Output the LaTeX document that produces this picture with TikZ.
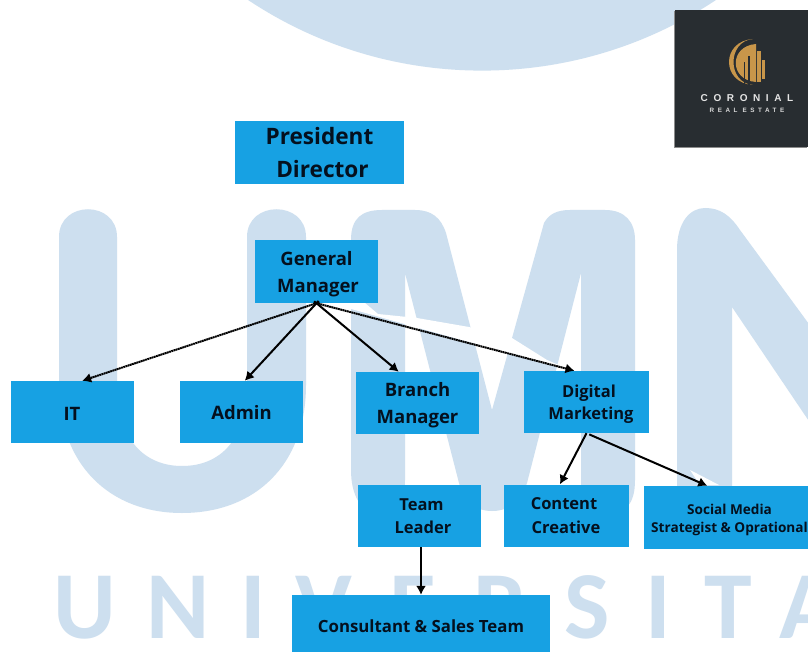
\documentclass[tikz,border=0pt]{standalone}
\usepackage{fontspec}
\usetikzlibrary{arrows.meta}
\setmainfont{Open Sans}
\newfontfamily\wmfont{Carlito}
\newfontfamily\logofont[LetterSpace=56]{Liberation Sans}

\definecolor{wmblue}{HTML}{CDDFEF}
\definecolor{boxblue}{HTML}{17A1E3}
\definecolor{boxtext}{HTML}{04101E}
\definecolor{logodark}{HTML}{282D31}
\definecolor{logogold}{HTML}{C8964A}

%% taller first line, pushes the text of a box down
\newcommand{\droptext}[1]{\rule{0pt}{#1}}

\tikzset{
	orgbox/.style={fill=boxblue, text=boxtext, inner sep=0pt, align=center,
		minimum width=123pt, minimum height=62pt,
		font=\fontsize{18.5}{27}\selectfont\bfseries},
	orgline/.style={-{Latex[length=9pt,width=10pt]}, line width=2pt, black},
	orgdots/.style={orgline, dash pattern=on 1.8pt off 0.5pt},
	wmletter/.style={text=wmblue, inner sep=0pt, anchor=base,
		font=\fontsize{96}{96}\selectfont\wmfont\bfseries},
}

\begin{document}
\begin{tikzpicture}[x=1pt, y=-1pt]
	\clip (0,0) rectangle (808,652);
	\fill [white] (0,0) rectangle (808,652);

	%% Watermark
	\fill [wmblue] (482,-352) circle [radius=422.6];
	\fill [wmblue] (59,237) .. controls (59,200) and (117,200) .. (117,237)
		-- (117,385) .. controls (117,440) and (145,466) .. (182,466)
		.. controls (220,466) and (247,440) .. (247,385)
		-- (247,237) .. controls (247,200) and (306,200) .. (306,237)
		-- (306,385) .. controls (306,465) and (255,513) .. (182,513)
		.. controls (110,513) and (59,465) .. (59,385) -- cycle
	;
	\fill [wmblue] (351,240) .. controls (351,218) and (362,210) .. (382,210)
		-- (415,210) .. controls (432,210) and (441,218) .. (446,233)
		-- (492,410) -- (544,223) .. controls (549,214) and (557,210) .. (570,210)
		-- (605,210) .. controls (625,210) and (635,222) .. (635,240)
		-- (635,480) .. controls (635,505) and (625,513) .. (608,513)
		.. controls (595,513) and (581,505) .. (581,480)
		-- (581,273) -- (527,483) .. controls (520,503) and (508,511) .. (492,511)
		.. controls (476,511) and (465,503) .. (459,483)
		-- (405,273) -- (405,480) .. controls (405,505) and (395,513) .. (378,513)
		.. controls (361,513) and (351,495) .. (351,470) -- cycle
	;
	\fill [wmblue] (677,250) .. controls (677,222) and (690,208) .. (705,208)
		.. controls (720,208) and (730,215) .. (740,230)
		-- (850,380) -- (850,482) -- (732,307) -- (732,490) -- (677,490) -- cycle
	;
	\foreach \letter/\xpos in {U/85, N/178, I/253, V/324, E/413, R/501, S/587, I/658, T/728, A/809}
		\node [wmletter] (wm\xpos) at (\xpos,638) {\letter};

	%% White strips along the arrows
	\fill [white] (365,303) -- (378,314) -- (417,318) -- (469,327) -- (512,338)
		-- (547,360) -- (575,372) -- (330,303) -- cycle;
	\fill [white] (690,470) -- (719,485) -- (700,485) -- cycle;

	%% Logo
	\fill [black!45] (674,11) rectangle (807,148);
	\fill [logodark] (675,10) rectangle (808,147);
	\fill [logogold] (753,39) .. controls (721,41) and (721,83) .. (753,85)
		.. controls (727,83) and (727,41) .. cycle;
	\fill [logogold] (756,44) .. controls (729,46) and (729,80) .. (756,82) -- cycle;
	\fill [logodark] (744,62) rectangle (745,85);
	\fill [logodark] (748,56) rectangle (749.5,85);
	\fill [logogold] (757,51) rectangle (761,82);
	\fill [logogold] (762,60) rectangle (765,79);
	\node [text=white!90!black, inner sep=0pt, font=\fontsize{10}{10}\selectfont\logofont\bfseries]
		(logoname) at (747,98) {CORONIAL};
	\node [text=white!85!black, inner sep=0pt, font=\fontsize{6.3}{6.3}\selectfont\logofont\bfseries]
		(logosub) at (747,110.5) {REAL ESTATE};

	%% Boxes
	\node [orgbox, minimum width=169pt, minimum height=63pt,
		font=\fontsize{22.6}{33}\selectfont\bfseries]
		(president) at (319.5,152.5) {President\\\hspace*{6pt}Director};
	\node [orgbox, minimum height=63pt] (general) at (316.5,271.5)
		{\droptext{20pt}General\\\hspace*{3pt}Manager};
	\node [orgbox] (itbox) at (72,412) {\droptext{16pt}IT};
	\node [orgbox] (admin) at (241.5,412) {\droptext{16pt}Admin};
	\node [orgbox] (branch) at (417.5,403) {\droptext{18pt}Branch\\Manager};
	\node [orgbox, minimum width=125pt, font=\fontsize{16.5}{22}\selectfont\bfseries]
		(digital) at (586.5,402) {\droptext{17pt}\hspace*{5pt}Digital\\\hspace*{9pt}Marketing};
	\node [orgbox, font=\fontsize{16.5}{23.5}\selectfont\bfseries]
		(team) at (419.5,516) {\hspace*{4pt}Team\\\hspace*{7pt}Leader};
	\node [orgbox, minimum width=125pt, font=\fontsize{16.5}{23.5}\selectfont\bfseries]
		(content) at (566,515.5) {\hspace*{-4pt}Content\\Creative};
	\node [orgbox, minimum width=171pt, minimum height=63pt, font=\fontsize{13.6}{18}\selectfont\bfseries]
		(social) at (729.5,517.5) {\droptext{15pt}Social Media\\Strategist \& Oprational};
	\node [orgbox, minimum width=258pt, minimum height=66pt, font=\fontsize{16.8}{20}\selectfont\bfseries]
		(consultant) at (421,628) {\raisebox{3pt}{Consultant \& Sales Team}};

	%% Connectors
	\draw [orgdots, shorten <=-3pt] (general.south) -- (itbox.72);
	\draw [orgline, shorten <=-3pt] (general.south) -- (admin.84);
	\draw [orgline, shorten <=-3pt] (general.south) -- (branch.121);
	\draw [orgdots, shorten <=-3pt] (general.south) -- (digital.111);
	\draw [orgline] (digital.south) -- (content.101);
	\draw [orgline, shorten <=3pt] (digital.south) -- (social.125);
	\draw [orgline] (consultant.north |- team.south) -- (consultant.north);
\end{tikzpicture}
\end{document}
